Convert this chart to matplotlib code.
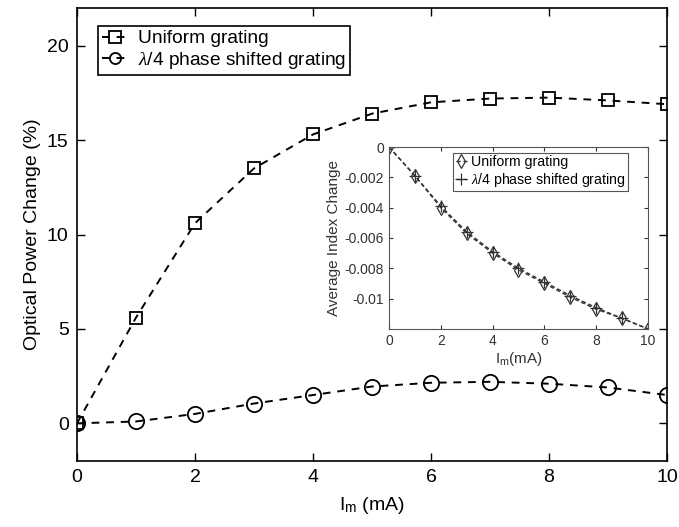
import matplotlib
matplotlib.use("Agg")
import matplotlib.pyplot as plt

plt.rcParams['font.family'] = ['Liberation Sans', 'DejaVu Sans']
plt.rcParams['mathtext.fontset'] = 'custom'
plt.rcParams['mathtext.it'] = 'Liberation Serif:italic'
plt.rcParams['mathtext.rm'] = 'Liberation Sans'

current = [0, 1, 2, 3, 4, 5, 6, 7, 8, 9, 10]
uniform_power = [0, 5.6, 10.6, 13.5, 15.3, 16.4, 17.0, 17.2, 17.25, 17.1, 16.9]
shifted_power = [0, 0.1, 0.5, 1.05, 1.5, 1.95, 2.15, 2.2, 2.1, 1.9, 1.5]
uniform_index = [0, -0.0019, -0.0040, -0.0057, -0.0070, -0.0081, -0.0090, -0.0099, -0.0107, -0.0113, -0.0120]
shifted_index = [0, -0.0019, -0.0039, -0.0056, -0.0069, -0.0080, -0.0089, -0.0098, -0.0106, -0.0113, -0.0120]

fig = plt.figure(figsize=(6.79, 5.27), dpi=100)
ax = fig.add_axes([0.1134, 0.125, 0.8689, 0.860])

ax.plot(current, uniform_power, linestyle=(0, (4, 3.5)), color='black', lw=1.4,
        marker='s', markersize=8, markerfacecolor='none', markeredgewidth=1.3,
        label='Uniform grating')
ax.plot(current, shifted_power, linestyle=(0, (4, 3.5)), color='black', lw=1.4,
        marker='o', markersize=11, markerfacecolor='none', markeredgewidth=1.3,
        label=r'$\lambda$/4 phase shifted grating')
ax.set_xlim(0, 10)
ax.set_ylim(-2, 22)
ax.set_xticks([0, 2, 4, 6, 8, 10])
ax.set_yticks([0, 5, 10, 15, 20])
ax.tick_params(direction='in', top=True, right=True, labelsize=14, length=6, width=1,
               pad=6)
for s in ax.spines.values():
    s.set_linewidth(1.2)
ax.set_xlabel(r'I$_\mathrm{m}$ (mA)', fontsize=14, labelpad=6)
ax.set_ylabel('Optical Power Change (%)', fontsize=14, labelpad=4)
leg = ax.legend(loc='upper left', bbox_to_anchor=(0.036, 0.960), fontsize=13.8,
                handlelength=1.3, handletextpad=0.55, borderpad=0.2,
                labelspacing=0.15, fancybox=False, framealpha=1,
                edgecolor='black', borderaxespad=0.0)
leg.get_frame().set_linewidth(1.2)
for h in leg.legend_handles:
    h.set_markersize(8)

ins = fig.add_axes([0.573, 0.376, 0.381, 0.345])
ins.plot(current, uniform_index, linestyle=(0, (3, 2)), color='#333333', lw=1.0,
         marker='d', markersize=7, markerfacecolor='none', markeredgewidth=0.9,
         label='Uniform grating')
ins.plot(current, shifted_index, linestyle=(0, (3, 2)), color='#333333', lw=1.0,
         marker='+', markersize=8, markeredgewidth=0.9,
         label=r'$\lambda$/4 phase shifted grating')
ins.set_xlim(0, 10)
ins.set_ylim(-0.012, 0)
ins.set_xticks([0, 2, 4, 6, 8, 10])
ins.set_yticks([0, -0.002, -0.004, -0.006, -0.008, -0.01])
ins.set_yticklabels(['0', '-0.002', '-0.004', '-0.006', '-0.008', '-0.01'])
ins.tick_params(direction='in', top=True, right=True, labelsize=10, length=3, width=0.8,
                colors='#333333')
for s in ins.spines.values():
    s.set_linewidth(0.8)
    s.set_color('#555555')
ins.set_xlabel(r'I$_\mathrm{m}$(mA)', fontsize=11, color='#333333', labelpad=2)
ins.set_ylabel('Average Index Change', fontsize=11, color='#333333', labelpad=3)
leg2 = ins.legend(loc='upper right', bbox_to_anchor=(0.923, 0.967), fontsize=10.2,
                  handlelength=0.8, handletextpad=0.3, borderpad=0.15,
                  labelspacing=0.1, fancybox=False, framealpha=1,
                  edgecolor='#555555', borderaxespad=0.0)
leg2.get_frame().set_linewidth(0.8)

fig.savefig('out.png', dpi=100)
